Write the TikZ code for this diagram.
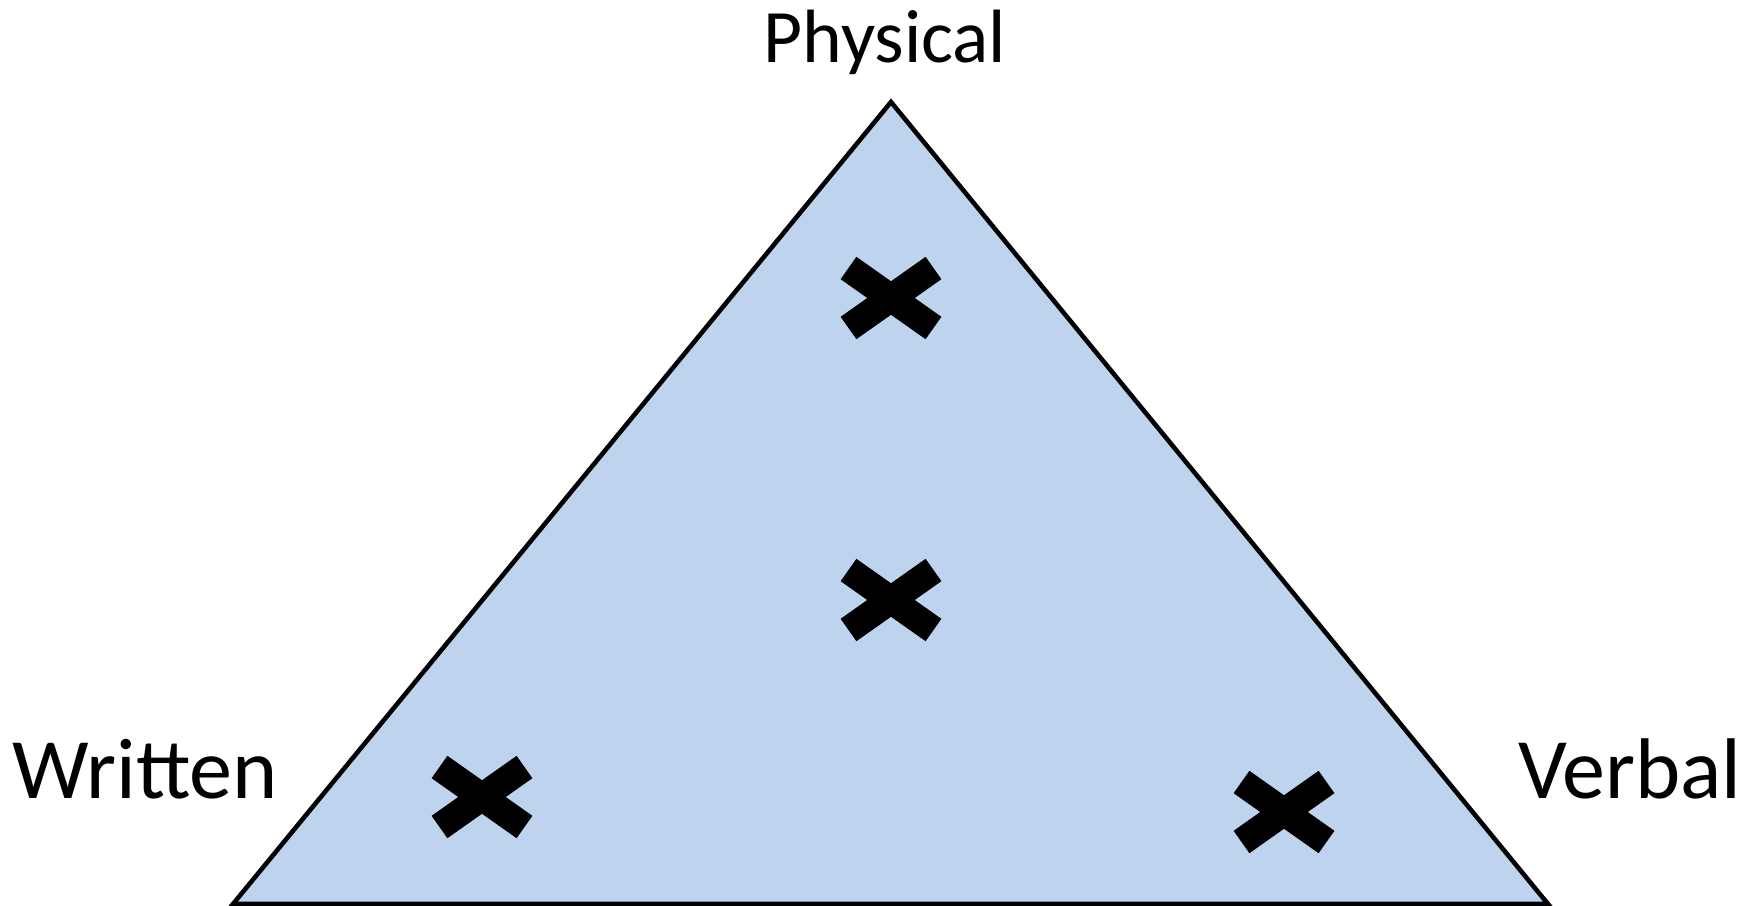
\documentclass[tikz,border=0pt]{standalone}
\usepackage{fontspec}
\setmainfont{Carlito}
\usetikzlibrary{positioning}
\definecolor{triblue}{RGB}{190,212,238}

\begin{document}
\begin{tikzpicture}[x=0.02cm,y=-0.02cm,
 corner/.style={font=\fontsize{49}{58}\selectfont,inner sep=0pt},
 xbar/.style={line width=15.6pt}]
\useasboundingbox (0,0) rectangle (1758,906);
\coordinate (top) at (891,102);
\coordinate (left) at (233,904);
\coordinate (right) at (1548,904);
\filldraw[fill=triblue,line width=2.6pt] (top) -- (left) -- (right) -- cycle;
% labels at the corners
\node[corner,font=\fontsize{43}{52}\selectfont,anchor=base] (physical) at (885,62) {Physical};
\node[corner,anchor=base west] (written) at (12,798) {Written};
\node[corner,anchor=base east] (verbal) at (1742,798) {Verbal};
% the crosses
\foreach \cx/\cy in {891/298,891/600,482/797,1284/812} {
 \draw[xbar] (\cx-42.5,\cy-30) -- ++(85,60);
 \draw[xbar] (\cx-42.5,\cy+30) -- ++(85,-60);
}
\end{tikzpicture}
\end{document}
